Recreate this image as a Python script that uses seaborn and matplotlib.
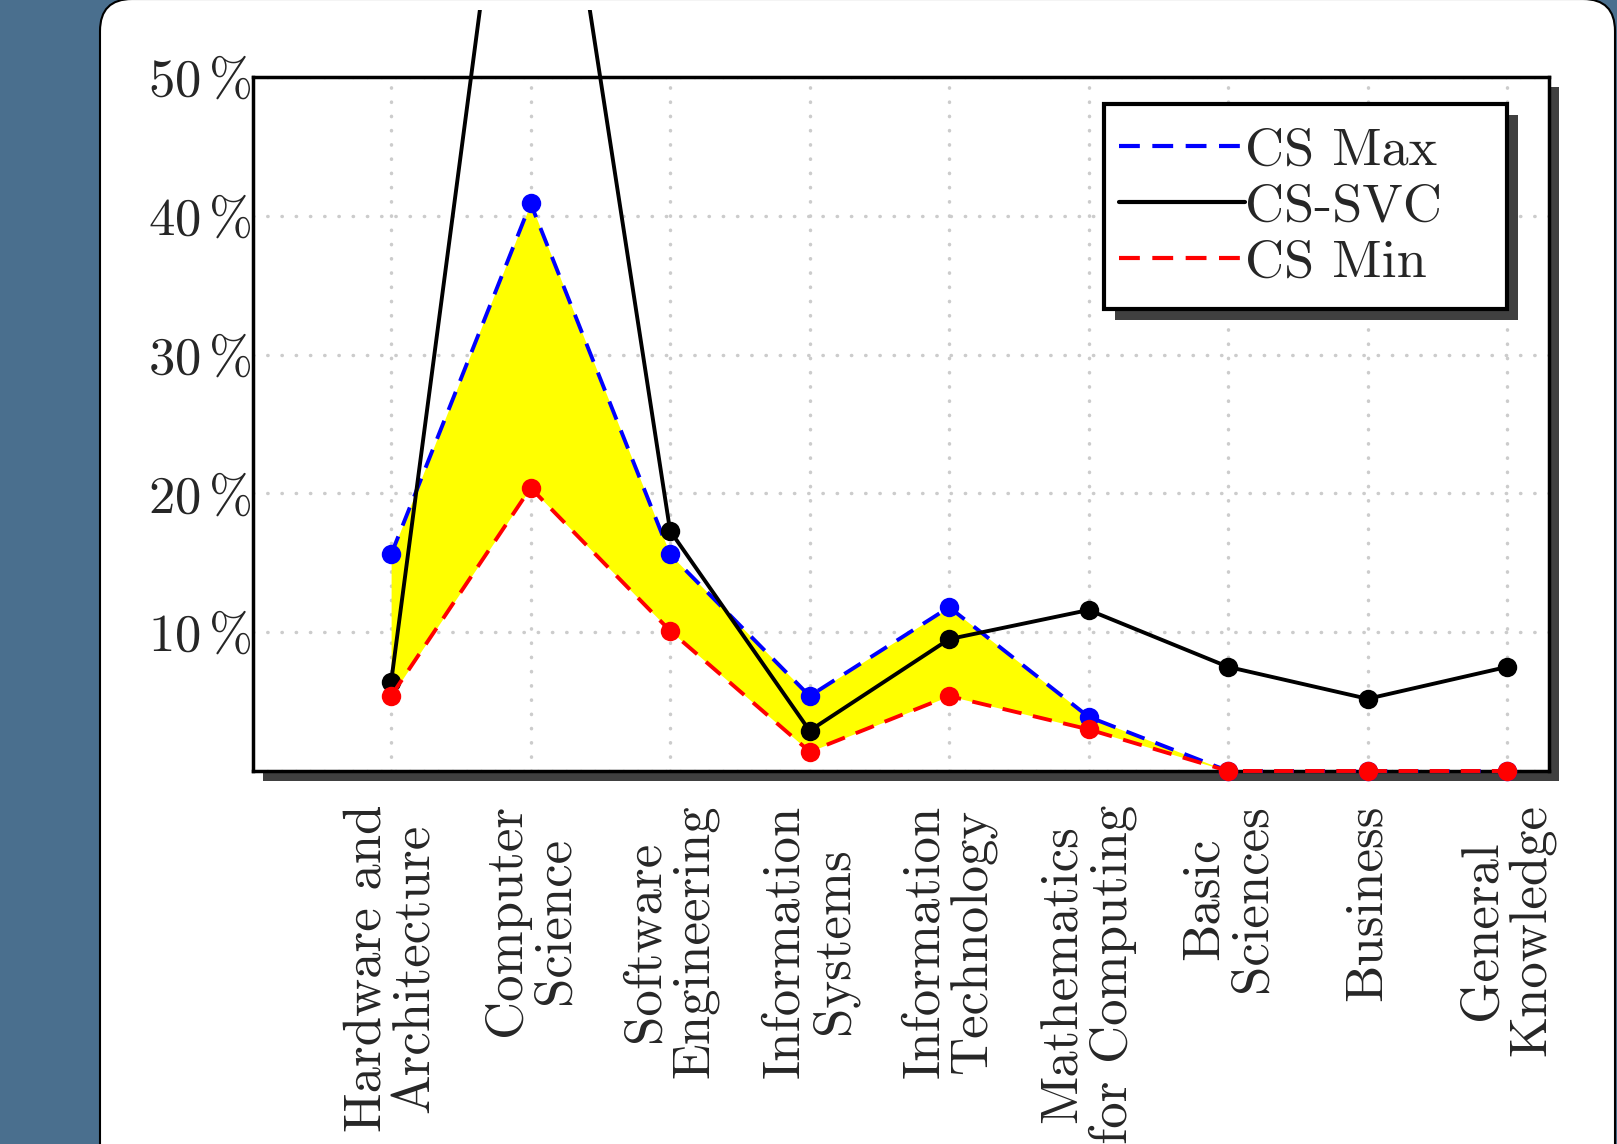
import numpy as np
import pandas as pd
import seaborn as sns
import matplotlib.pyplot as plt
from matplotlib.patches import FancyBboxPatch, Rectangle
from matplotlib.transforms import Bbox, TransformedBbox
import matplotlib.patheffects as pe

# datos (porcentaje)
categorias = ['Hardware and\nArchitecture', 'Computer\nScience', 'Software\nEngineering',
              'Information\nSystems', 'Information\nTechnology', 'Mathematics\nfor Computing',
              'Basic\nSciences', 'Business', 'General\nKnowledge']
cs_max = [15.6, 40.9, 15.6, 5.4, 11.8, 3.9, 0.0, 0.0, 0.0]
cs_min = [5.4, 20.4, 10.1, 1.4, 5.4, 3.0, 0.0, 0.0, 0.0]
cs_svc = [6.4, 82.5, 17.3, 2.9, 9.5, 11.6, 7.5, 5.2, 7.5]
yticks = [0, 10, 20, 30, 40, 50]
ytick_labels = ['', r'$10\,\%$', r'$20\,\%$', r'$30\,\%$', r'$40\,\%$', r'$50\,\%$']

xpos = np.arange(len(categorias))
df = pd.DataFrame({'x': xpos, 'max': cs_max, 'min': cs_min, 'svc': cs_svc})

sns.set_style('white')
plt.rcParams['font.family'] = ['cmr10', 'DejaVu Serif']
plt.rcParams['mathtext.fontset'] = 'cm'
plt.rcParams['axes.unicode_minus'] = False

fig = plt.figure(figsize=(16.17, 11.44), dpi=100)
fig.patch.set_facecolor('#4a6f8e')

# panel blanco redondeado
panel = FancyBboxPatch((1.0, -1.0), 15.15, 12.45, boxstyle='round,pad=0,rounding_size=0.32',
                       transform=fig.dpi_scale_trans, facecolor='white', edgecolor='black',
                       linewidth=1.5, zorder=-5)
fig.add_artist(panel)

ax = fig.add_axes([253/1617, 1 - 771/1144, (1549-253)/1617, (771-77)/1144])
ax.patch.set_facecolor('white')
ax.patch.set_path_effects([pe.SimplePatchShadow(offset=(7.5, -7.5), shadow_rgbFace='#404040', alpha=1),
                           pe.Normal()])

ax.fill_between(df['x'], df['min'], df['max'], color='yellow', linewidth=0, zorder=2)

dash = (0, (5, 3))
lw = 2.8
ms = 14
sns.lineplot(data=df, x='x', y='max', ax=ax, color='blue', linestyle=dash, linewidth=lw,
             marker='o', markersize=ms, markeredgewidth=0, errorbar=None, label='CS Max')
l_max = ax.lines[-1]
sns.lineplot(data=df, x='x', y='svc', ax=ax, color='black', linewidth=lw,
             marker='o', markersize=ms, markeredgewidth=0, errorbar=None, label='CS-SVC')
l_svc = ax.lines[-1]
sns.lineplot(data=df, x='x', y='min', ax=ax, color='red', linestyle=dash, linewidth=lw,
             marker='o', markersize=ms, markeredgewidth=0, errorbar=None, label='CS Min')
l_min = ax.lines[-1]

for l in [l_max, l_min]:
    l.set_clip_on(False)
    l.set_zorder(4)
l_svc.set_zorder(4)
l_svc.set_clip_box(TransformedBbox(Bbox.from_extents(0, 0, 1, 1134/1144), fig.transFigure))

ax.set_xlim(-0.99, 8.3)
ax.set_ylim(0, 50)
ax.set_xticks(xpos)
ax.set_xticklabels(categorias)
ax.set_yticks(yticks)
ax.set_yticklabels(ytick_labels)
ax.set_xlabel('')
ax.set_ylabel('')
ax.tick_params(axis='x', length=0, pad=24, labelsize=38)
ax.tick_params(axis='y', length=0, pad=1, labelsize=38)
plt.setp(ax.get_xticklabels(), rotation=90, ha='center', va='top', multialignment='center',
         linespacing=1.05)

ax.grid(True, color='#cccccc', linestyle=(0, (0.1, 4)), linewidth=2.5, dash_capstyle='round')
for s in ax.spines.values():
    s.set_visible(True)
    s.set_color('black')
    s.set_linewidth(2.5)

# caja de la leyenda con sombra
caja = Rectangle((0.6566, 0.6657), 0.311, 0.2954, transform=ax.transAxes, facecolor='white',
                 edgecolor='black', linewidth=3, zorder=4.8, clip_on=False)
caja.set_path_effects([pe.SimplePatchShadow(offset=(8, -8), shadow_rgbFace='#404040', alpha=1),
                       pe.Normal()])
ax.add_patch(caja)

leg = ax.legend(loc='upper left', bbox_to_anchor=(0.668, 0.928), borderaxespad=0,
                fontsize=39, handlelength=2.33, handletextpad=0.0, labelspacing=0.15,
                borderpad=0, frameon=False)
leg.set_zorder(5)
for h in leg.get_lines():
    h.set_marker('')
    h.set_linewidth(3)

plt.savefig('out.png', dpi=100, facecolor=fig.get_facecolor())
